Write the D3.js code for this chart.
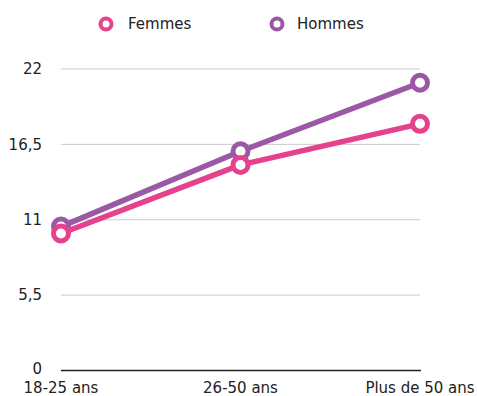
<!DOCTYPE html>
<html><head><meta charset="utf-8">
<script src="https://cdn.jsdelivr.net/npm/d3@7"></script>
<style>body{margin:0;background:#fff;}svg{display:block;font-family:"DejaVu Sans",sans-serif;}</style>
</head><body>
<svg id="c" width="477" height="396"></svg>
<script>
const categories = ["18-25 ans", "26-50 ans", "Plus de 50 ans"];
const femmes = [10, 15, 18];
const hommes = [10.5, 16, 21];
const yTicks = [0, 5.5, 11, 16.5, 22];
const tickLabels = ["0", "5,5", "11", "16,5", "22"];
const seriesNames = ["Femmes", "Hommes"];
const colors = ["#e5418c", "#9b58a5"];

const svg = d3.select("#c");
const x = d3.scalePoint().domain(categories).range([61, 420]);
const y = d3.scaleLinear().domain([0, 22]).range([370.5, 69]);

// grid
svg.append("g").selectAll("line").data(yTicks.filter(d => d > 0)).join("line")
  .attr("x1", 61).attr("x2", 420).attr("y1", d => y(d)).attr("y2", d => y(d))
  .attr("stroke", "#cccccc").attr("stroke-width", 1);
svg.append("line").attr("x1", 61).attr("x2", 421).attr("y1", y(0)).attr("y2", y(0))
  .attr("stroke", "#222").attr("stroke-width", 1.5);

// y labels
svg.append("g").selectAll("text").data(yTicks).join("text")
  .attr("x", 42).attr("y", d => y(d) - (d === 0 ? 1.5 : 0)).attr("dy", "0.35em").attr("text-anchor", "end")
  .attr("font-size", 15).attr("fill", "#222").text((d, i) => tickLabels[i]);

// x labels
svg.append("g").selectAll("text").data(categories).join("text")
  .attr("x", d => x(d)).attr("y", 393).attr("text-anchor", "middle")
  .attr("font-size", 15).attr("fill", "#222").text(d => d);

const series = [femmes, hommes];
const line = d3.line().x((d, i) => x(categories[i])).y(d => y(d));
[1, 0].forEach(s => {
  const g = svg.append("g");
  g.append("path").datum(series[s]).attr("d", line).attr("fill", "none")
    .attr("stroke", colors[s]).attr("stroke-width", 5.5).attr("stroke-linejoin", "round");
  g.selectAll("circle").data(series[s]).join("circle")
    .attr("cx", (d, i) => x(categories[i])).attr("cy", d => y(d)).attr("r", 7.5)
    .attr("fill", "#fff").attr("stroke", colors[s]).attr("stroke-width", 5);
});

// legend
const legX = [106, 277];
const legTextX = [128, 297];
seriesNames.forEach((n, i) => {
  svg.append("circle").attr("cx", legX[i]).attr("cy", 24).attr("r", 5.5)
    .attr("fill", "#fff").attr("stroke", colors[i]).attr("stroke-width", 4);
  svg.append("text").attr("x", legTextX[i]).attr("y", 24).attr("dy", "0.35em")
    .attr("font-size", 15).attr("fill", "#222").text(n);
});
</script>
</body></html>
